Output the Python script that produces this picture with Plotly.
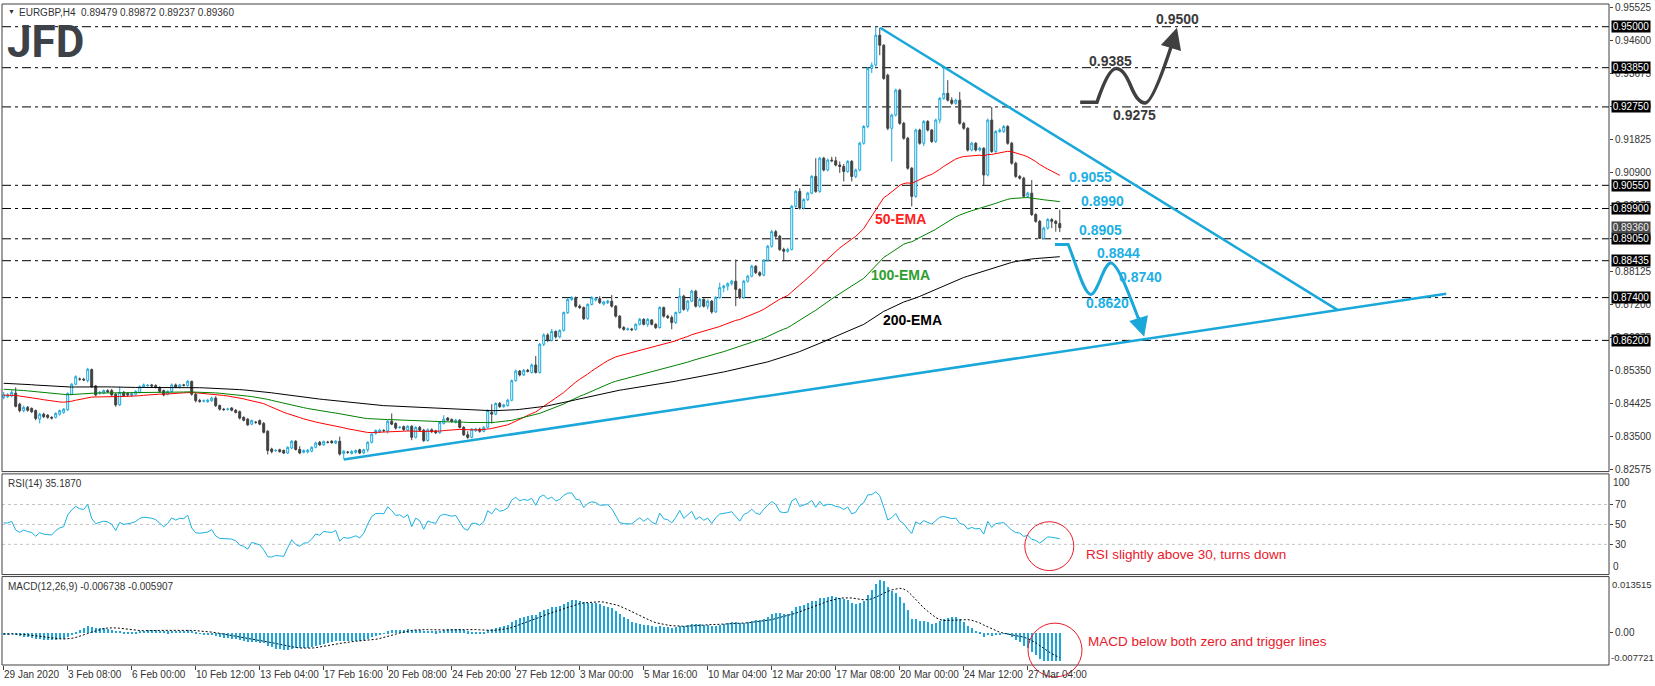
import plotly.graph_objects as go

# ---------------- data ----------------
opens = [
 0.8460,0.8462,0.8465,0.8472,0.8441,0.8423,0.8432,0.8429,0.8423,0.8399,
 0.8413,0.8410,0.8404,0.8404,0.8413,0.8418,0.8425,0.8469,0.8497,0.8511,
 0.8511,0.8507,0.8538,0.8492,0.8472,0.8472,0.8479,0.8479,0.8469,0.8439,
 0.8474,0.8471,0.8465,0.8469,0.8474,0.8490,0.8493,0.8495,0.8493,0.8488,
 0.8479,0.8469,0.8477,0.8495,0.8489,0.8495,0.8493,0.8505,0.8469,0.8451,
 0.8450,0.8448,0.8451,0.8458,0.8437,0.8427,0.8427,0.8430,0.8424,0.8420,
 0.8404,0.8399,0.8385,0.8390,0.8395,0.8387,0.8365,0.8315,0.8311,0.8313,
 0.8311,0.8304,0.8318,0.8337,0.8314,0.8306,0.8307,0.8309,0.8320,0.8334,
 0.8327,0.8334,0.8337,0.8332,0.8337,0.8303,0.8306,0.8303,0.8306,0.8313,
 0.8304,0.8313,0.8334,0.8359,0.8363,0.8367,0.8366,0.8393,0.8387,0.8376,
 0.8378,0.8368,0.8379,0.8348,0.8376,0.8368,0.8339,0.8369,0.8366,0.8361,
 0.8387,0.8402,0.8398,0.8390,0.8396,0.8376,0.8355,0.8348,0.8367,0.8371,
 0.8365,0.8376,0.8418,0.8413,0.8443,0.8434,0.8437,0.8452,0.8507,0.8534,
 0.8523,0.8536,0.8530,0.8551,0.8530,0.8609,0.8635,0.8620,0.8645,0.8630,
 0.8648,0.8698,0.8735,0.8740,0.8716,0.8712,0.8681,0.8721,0.8733,0.8737,
 0.8722,0.8726,0.8730,0.8716,0.8688,0.8656,0.8651,0.8652,0.8651,0.8665,
 0.8679,0.8665,0.8677,0.8665,0.8656,0.8712,0.8688,0.8684,0.8670,0.8698,
 0.8744,0.8707,0.8730,0.8758,0.8716,0.8735,0.8716,0.8730,0.8700,0.8740,
 0.8768,0.8772,0.8779,0.8786,0.8763,0.8740,0.8786,0.8800,0.8828,0.8810,
 0.8803,0.8845,0.8884,0.8925,0.8912,0.8875,0.8870,0.8875,0.8996,0.9038,
 0.8991,0.9015,0.9033,0.9080,0.9038,0.9131,0.9098,0.9126,0.9124,0.9112,
 0.9108,0.9094,0.9122,0.9080,0.9098,0.9173,0.9220,0.9383,0.9392,0.9476,
 0.9448,0.9364,0.9215,0.9252,0.9322,0.9229,0.9187,0.9103,0.9024,0.9210,
 0.9173,0.9234,0.9210,0.9178,0.9238,0.9299,0.9313,0.9294,0.9285,0.9294,
 0.9229,0.9215,0.9154,0.9173,0.9154,0.9159,0.9084,0.9238,0.9150,0.9206,
 0.9206,0.9220,0.9173,0.9117,0.9080,0.9075,0.9024,0.9033,0.8973,0.8954,
 0.8906,0.8935,0.8959,0.8954,0.89479]
highs = [
 0.8475,0.8472,0.8480,0.8488,0.8445,0.8437,0.8436,0.8432,0.8426,0.8417,
 0.8417,0.8413,0.8407,0.8418,0.8426,0.8430,0.8474,0.8500,0.8522,0.8516,
 0.8515,0.8543,0.8541,0.8495,0.8478,0.8482,0.8483,0.8484,0.8472,0.8490,
 0.8478,0.8474,0.8474,0.8480,0.8494,0.8499,0.8497,0.8498,0.8497,0.8491,
 0.8482,0.8480,0.8499,0.8499,0.8498,0.8498,0.8509,0.8507,0.8472,0.8456,
 0.8454,0.8456,0.8462,0.8463,0.8440,0.8430,0.8431,0.8433,0.8427,0.8423,
 0.8407,0.8402,0.8398,0.8394,0.8398,0.8391,0.8368,0.8319,0.8315,0.8316,
 0.8314,0.8323,0.8340,0.8340,0.8323,0.8314,0.8315,0.8323,0.8336,0.8338,
 0.8339,0.8338,0.8340,0.8340,0.8350,0.8312,0.8310,0.8312,0.8314,0.8316,
 0.8316,0.8337,0.8360,0.8370,0.8372,0.8371,0.8396,0.8415,0.8390,0.8380,
 0.8381,0.8382,0.8382,0.8379,0.8380,0.8372,0.8373,0.8373,0.8369,0.8393,
 0.8410,0.8405,0.8401,0.8400,0.8399,0.8379,0.8365,0.8374,0.8375,0.8375,
 0.8379,0.8427,0.8441,0.8446,0.8447,0.8442,0.8456,0.8510,0.8538,0.8537,
 0.8540,0.8540,0.8555,0.8576,0.8613,0.8640,0.8640,0.8652,0.8648,0.8651,
 0.8701,0.8740,0.8744,0.8743,0.8721,0.8715,0.8724,0.8744,0.8741,0.8744,
 0.8731,0.8734,0.8747,0.8719,0.8691,0.8660,0.8656,0.8655,0.8668,0.8683,
 0.8682,0.8683,0.8680,0.8668,0.8716,0.8715,0.8692,0.8690,0.8701,0.8767,
 0.8748,0.8734,0.8762,0.8762,0.8740,0.8738,0.8735,0.8733,0.8744,0.8782,
 0.8776,0.8783,0.8790,0.8847,0.8766,0.8790,0.8804,0.8832,0.8831,0.8814,
 0.8848,0.8888,0.8930,0.8930,0.8916,0.8880,0.8880,0.9000,0.9042,0.9047,
 0.9019,0.9037,0.9084,0.9131,0.9135,0.9135,0.9130,0.9135,0.9135,0.9122,
 0.9115,0.9126,0.9126,0.9102,0.9177,0.9224,0.9387,0.9400,0.9500,0.9497,
 0.9451,0.9368,0.9256,0.9326,0.9326,0.9233,0.9191,0.9106,0.9214,0.9214,
 0.9238,0.9238,0.9213,0.9242,0.9303,0.9385,0.9350,0.9302,0.9298,0.9317,
 0.9233,0.9218,0.9177,0.9176,0.9163,0.9162,0.9242,0.9275,0.9210,0.9215,
 0.9224,0.9224,0.9177,0.9121,0.9084,0.9079,0.9037,0.9070,0.8977,0.8958,
 0.8939,0.8963,0.8963,0.8958,0.89872]
lows = [
 0.8455,0.8458,0.8460,0.8432,0.8418,0.8418,0.8420,0.8416,0.8396,0.8387,
 0.8402,0.8400,0.8398,0.8401,0.8409,0.8414,0.8422,0.8466,0.8494,0.8507,
 0.8506,0.8502,0.8487,0.8463,0.8468,0.8469,0.8473,0.8464,0.8434,0.8436,
 0.8461,0.8462,0.8461,0.8466,0.8471,0.8487,0.8490,0.8489,0.8485,0.8473,
 0.8463,0.8466,0.8474,0.8486,0.8485,0.8491,0.8490,0.8465,0.8446,0.8445,
 0.8446,0.8445,0.8448,0.8433,0.8423,0.8422,0.8423,0.8421,0.8415,0.8398,
 0.8393,0.8380,0.8382,0.8386,0.8382,0.8359,0.8300,0.8303,0.8307,0.8305,
 0.8301,0.8301,0.8315,0.8311,0.8301,0.8303,0.8303,0.8306,0.8317,0.8324,
 0.8324,0.8331,0.8330,0.8329,0.8297,0.8288,0.8302,0.8300,0.8302,0.8301,
 0.8301,0.8306,0.8331,0.8356,0.8360,0.8363,0.8359,0.8382,0.8370,0.8372,
 0.8366,0.8365,0.8340,0.8345,0.8364,0.8335,0.8336,0.8360,0.8357,0.8358,
 0.8384,0.8393,0.8389,0.8387,0.8373,0.8352,0.8344,0.8345,0.8363,0.8361,
 0.8362,0.8373,0.8387,0.8410,0.8431,0.8431,0.8434,0.8449,0.8504,0.8519,
 0.8520,0.8530,0.8527,0.8527,0.8527,0.8604,0.8615,0.8617,0.8625,0.8626,
 0.8645,0.8694,0.8731,0.8712,0.8708,0.8677,0.8678,0.8718,0.8729,0.8722,
 0.8718,0.8722,0.8712,0.8684,0.8652,0.8647,0.8647,0.8646,0.8647,0.8662,
 0.8662,0.8658,0.8662,0.8652,0.8653,0.8684,0.8680,0.8651,0.8666,0.8695,
 0.8703,0.8700,0.8727,0.8712,0.8712,0.8712,0.8707,0.8695,0.8697,0.8737,
 0.8755,0.8760,0.8774,0.8716,0.8736,0.8736,0.8782,0.8797,0.8806,0.8799,
 0.8800,0.8841,0.8880,0.8905,0.8871,0.8842,0.8866,0.8872,0.8992,0.8987,
 0.8987,0.9011,0.9030,0.9034,0.9034,0.9094,0.9094,0.9120,0.9108,0.9090,
 0.9066,0.9090,0.9066,0.9075,0.9094,0.9169,0.9215,0.9370,0.9388,0.9420,
 0.9351,0.9210,0.9122,0.9248,0.9225,0.9183,0.9099,0.8996,0.9020,0.9169,
 0.9165,0.9206,0.9174,0.9174,0.9229,0.9295,0.9290,0.9281,0.9281,0.9225,
 0.9211,0.9150,0.9150,0.9150,0.9150,0.9056,0.9080,0.9146,0.9146,0.9202,
 0.9202,0.9169,0.9113,0.9076,0.9071,0.9020,0.9020,0.8969,0.8950,0.8905,
 0.8905,0.8931,0.8935,0.8925,0.89237]
closes = [
 0.8467,0.8467,0.8474,0.8435,0.8423,0.8432,0.8424,0.8420,0.8401,0.8413,
 0.8406,0.8404,0.8402,0.8415,0.8423,0.8427,0.8471,0.8497,0.8518,0.8511,
 0.8509,0.8539,0.8490,0.8467,0.8474,0.8479,0.8476,0.8467,0.8439,0.8474,
 0.8465,0.8467,0.8471,0.8477,0.8490,0.8495,0.8494,0.8492,0.8488,0.8477,
 0.8467,0.8477,0.8495,0.8489,0.8495,0.8494,0.8505,0.8469,0.8451,0.8449,
 0.8450,0.8452,0.8458,0.8437,0.8427,0.8426,0.8427,0.8424,0.8418,0.8402,
 0.8396,0.8383,0.8395,0.8390,0.8385,0.8362,0.8311,0.8308,0.8311,0.8308,
 0.8304,0.8320,0.8337,0.8314,0.8304,0.8311,0.8312,0.8320,0.8332,0.8327,
 0.8336,0.8334,0.8333,0.8337,0.8301,0.8309,0.8306,0.8308,0.8311,0.8304,
 0.8313,0.8334,0.8357,0.8367,0.8368,0.8367,0.8393,0.8385,0.8374,0.8376,
 0.8370,0.8379,0.8348,0.8376,0.8368,0.8339,0.8369,0.8364,0.8361,0.8390,
 0.8399,0.8396,0.8393,0.8396,0.8376,0.8355,0.8348,0.8371,0.8371,0.8365,
 0.8376,0.8423,0.8413,0.8443,0.8434,0.8439,0.8452,0.8507,0.8534,0.8523,
 0.8536,0.8533,0.8551,0.8530,0.8609,0.8635,0.8620,0.8645,0.8630,0.8648,
 0.8698,0.8735,0.8740,0.8716,0.8712,0.8681,0.8721,0.8740,0.8737,0.8726,
 0.8728,0.8730,0.8716,0.8688,0.8656,0.8651,0.8652,0.8650,0.8665,0.8679,
 0.8665,0.8679,0.8665,0.8656,0.8712,0.8688,0.8684,0.8670,0.8698,0.8744,
 0.8707,0.8730,0.8758,0.8716,0.8735,0.8716,0.8730,0.8700,0.8740,0.8768,
 0.8772,0.8779,0.8786,0.8763,0.8740,0.8786,0.8800,0.8828,0.8810,0.8803,
 0.8845,0.8884,0.8925,0.8912,0.8875,0.8870,0.8875,0.8996,0.9038,0.8991,
 0.9015,0.9033,0.9080,0.9038,0.9131,0.9098,0.9126,0.9124,0.9112,0.9108,
 0.9094,0.9122,0.9080,0.9098,0.9173,0.9220,0.9383,0.9392,0.9476,0.9448,
 0.9355,0.9215,0.9252,0.9322,0.9229,0.9187,0.9103,0.9024,0.9210,0.9173,
 0.9234,0.9210,0.9178,0.9238,0.9299,0.9313,0.9294,0.9285,0.9294,0.9229,
 0.9215,0.9154,0.9173,0.9154,0.9159,0.9084,0.9238,0.9150,0.9206,0.9210,
 0.9220,0.9173,0.9117,0.9080,0.9075,0.9024,0.9033,0.8973,0.8954,0.8906,
 0.8935,0.8959,0.8954,0.8948,0.89360]

tick_idx = [0, 16, 32, 48, 64, 80, 96, 112, 128, 144, 160, 176, 192, 208, 224, 240, 256]
tick_labels = ["29 Jan 2020", "3 Feb 08:00", "6 Feb 00:00", "10 Feb 12:00", "13 Feb 04:00",
               "17 Feb 16:00", "20 Feb 08:00", "24 Feb 20:00", "27 Feb 12:00", "3 Mar 00:00",
               "5 Mar 16:00", "10 Mar 04:00", "12 Mar 20:00", "17 Mar 08:00", "20 Mar 00:00",
               "24 Mar 12:00", "27 Mar 04:00"]
levels = [0.9500, 0.9385, 0.9275, 0.9055, 0.8990, 0.8905, 0.88435, 0.8740, 0.8620]
last_price = 0.89360
price_ticks = [0.95525, 0.94600, 0.93675, 0.92750, 0.91825, 0.90900, 0.89975, 0.89050,
               0.88125, 0.87200, 0.86275, 0.85350, 0.84425, 0.83500, 0.82575]
rsi_levels = [70, 50, 30]
ema_periods = [50, 100, 200]
ema_seeds = [0.84664, 0.84832, 0.85000]
ema_colors = ["#ff0000", "#008000", "#000000"]
# trend lines: (bar, price) end points
down_trend = [(219.1, 0.9497), (333.5, 0.8705)]
up_trend = [(85.0, 0.82855), (360.6, 0.8751)]

n = len(closes)
assert len(opens) == n and len(highs) == n and len(lows) == n
xs = list(range(n))

# ---------------- indicators ----------------
def ema(vals, period, seed):
    a = 2.0 / (period + 1)
    e = seed
    out = []
    for v in vals:
        e = e + a * (v - e)
        out.append(e)
    return out

def rsi(vals, first_prev, period=14, seed=0.0009):
    ag = al = seed
    prev = first_prev
    out = []
    for v in vals:
        ch = v - prev
        ag = (ag * (period - 1) + max(ch, 0)) / period
        al = (al * (period - 1) + max(-ch, 0)) / period
        out.append(100 - 100 / (1 + ag / al) if al > 0 else 100)
        prev = v
    return out

emas = [ema(closes, p, s) for p, s in zip(ema_periods, ema_seeds)]
rsi_vals = rsi(closes, opens[0])
e12 = ema(closes, 12, 0.8464)
e26 = ema(closes, 26, 0.8467)
macd = [a - b for a, b in zip(e12, e26)]
signal = [sum(macd[max(0, i - 8):i + 1]) / len(macd[max(0, i - 8):i + 1]) for i in range(n)]

# ---------------- geometry helpers ----------------
PL, PR, PT, PB = 2, 1609, 2, 665
def px_x(px):
    return (px - PL) / (PR - PL)
def px_y(py):
    return (PB - py) / (PB - PT)

dom_main = [px_y(471), 1.0]
dom_rsi = [px_y(574.3), px_y(473.3)]
dom_macd = [0.0, px_y(576.3)]

BLUE = "#1aa7da"
TXTBLUE = "#1cb0e4"
GREY = "#404040"
FONT = "Liberation Sans"

fig = go.Figure()
fig.add_trace(go.Candlestick(
    x=xs, open=opens, high=highs, low=lows, close=closes, xaxis="x", yaxis="y",
    increasing=dict(line=dict(color=BLUE, width=1), fillcolor="white"),
    decreasing=dict(line=dict(color=GREY, width=1), fillcolor=GREY),
    whiskerwidth=0, hoverinfo="skip"))
for e, c in zip(emas, ema_colors):
    fig.add_trace(go.Scatter(x=xs, y=e, mode="lines", line=dict(color=c, width=1),
                             xaxis="x", yaxis="y", hoverinfo="skip"))
fig.add_trace(go.Scatter(x=xs, y=rsi_vals, mode="lines", line=dict(color="#1ab0e0", width=1),
                         xaxis="x", yaxis="y2", hoverinfo="skip"))
fig.add_trace(go.Bar(x=xs, y=macd, width=0.3, marker=dict(color="#1ba5d8", line=dict(width=0)),
                     xaxis="x", yaxis="y3", hoverinfo="skip"))
fig.add_trace(go.Scatter(x=xs, y=signal, mode="lines", line=dict(color="black", width=1, dash="2px,2px"),
                         xaxis="x", yaxis="y3", hoverinfo="skip"))

shapes = []
# panel frames
for d in (dom_main, dom_rsi, dom_macd):
    shapes.append(dict(type="rect", xref="paper", yref="paper", x0=0, x1=1, y0=d[0], y1=d[1],
                       line=dict(color=GREY, width=1), layer="above"))
# horizontal levels
for lv in levels:
    shapes.append(dict(type="line", xref="paper", yref="y", x0=0, x1=1, y0=lv, y1=lv,
                       line=dict(color="black", width=1, dash="9px,4px,3px,4px"), layer="below"))
for lv in rsi_levels:
    shapes.append(dict(type="line", xref="paper", yref="y2", x0=0, x1=1, y0=lv, y1=lv,
                       line=dict(color="#c4c4c4", width=1, dash="3px,3px"), layer="below"))
# trend lines
for tl in (down_trend, up_trend):
    shapes.append(dict(type="line", xref="x", yref="y", x0=tl[0][0], y0=tl[0][1],
                       x1=tl[1][0], y1=tl[1][1], line=dict(color=BLUE, width=2.5), layer="above"))

def P(b, p):
    return f"{b},{p}"
gray_path = (f"M {P(269.1, 0.9288)} L {P(273.3, 0.9288)} "
             f"C {P(275.0, 0.9345)} {P(276.6, 0.9383)} {P(278.1, 0.9383)} "
             f"C {P(279.6, 0.9383)} {P(280.8, 0.9360)} {P(281.7, 0.9335)} "
             f"C {P(282.6, 0.9310)} {P(283.8, 0.9286)} {P(285.3, 0.9286)} "
             f"C {P(287.0, 0.9286)} {P(290.0, 0.9380)} {P(292.3, 0.9460)}")
blue_path = (f"M {P(262.8, 0.8889)} L {P(266.1, 0.8889)} "
             f"C {P(267.8, 0.8845)} {P(270.0, 0.8749)} {P(271.75, 0.8749)} "
             f"C {P(273.4, 0.8749)} {P(275.0, 0.8837)} {P(276.75, 0.8837)} "
             f"C {P(278.5, 0.8837)} {P(281.5, 0.8745)} {P(284.2, 0.8665)}")
shapes.append(dict(type="path", xref="x", yref="y", path=gray_path,
                   line=dict(color=GREY, width=3.5), layer="above"))
shapes.append(dict(type="path", xref="x", yref="y", path=blue_path,
                   line=dict(color=BLUE, width=3), layer="above"))
# red circles
def circle(cx, cy, r):
    return dict(type="circle", xref="paper", yref="paper",
                x0=px_x(cx - r), x1=px_x(cx + r), y0=px_y(cy + r), y1=px_y(cy - r),
                line=dict(color="#e81c2c", width=1), layer="above")
shapes.append(circle(1049.3, 545.8, 24.5))
shapes.append(circle(1055, 650, 27))

ann = []
# right-hand level boxes
for lv in levels:
    ann.append(dict(x=1, xref="paper", xanchor="left", xshift=2, y=lv, yref="y", yanchor="middle",
                    text=f"{lv:.5f}", showarrow=False, bgcolor="black", width=38, height=11,
                    borderpad=0, font=dict(family=FONT, size=10, color="white")))
ann.append(dict(x=1, xref="paper", xanchor="left", xshift=2, y=last_price, yref="y", yanchor="middle",
                text=f"{last_price:.5f}", showarrow=False, bgcolor="#4a4a4a", width=38, height=11,
                borderpad=0, font=dict(family=FONT, size=10, color="#f0f0f0")))
# rsi / macd extreme labels
ann.append(dict(x=1, xref="paper", xanchor="left", xshift=2, y=100, yref="y2", yanchor="top",
                text="100", showarrow=False, font=dict(family=FONT, size=10, color="#333")))
ann.append(dict(x=1, xref="paper", xanchor="left", xshift=2, y=0, yref="y2", yanchor="bottom",
                text="0", showarrow=False, font=dict(family=FONT, size=10, color="#333")))
ann.append(dict(x=1, xref="paper", xanchor="left", xshift=1, y=0.013515, yref="y3", yanchor="top",
                text="0.013515", showarrow=False, font=dict(family=FONT, size=9.5, color="#333")))
ann.append(dict(x=1, xref="paper", xanchor="left", xshift=0, y=-0.007721, yref="y3", yanchor="bottom",
                text="-0.007721", showarrow=False, font=dict(family=FONT, size=9.5, color="#333")))
# x tick labels
for ti, tl in zip(tick_idx, tick_labels):
    ann.append(dict(x=ti, xref="x", xanchor="left", xshift=-2, y=0, yref="paper", yanchor="top",
                    yshift=-2, text=tl, showarrow=False, font=dict(family=FONT, size=10, color="#333")))
# header texts
def ptext(px, py, text, size=10, color="#333", xanchor="left", family=FONT):
    return dict(x=px_x(px), y=px_y(py), xref="paper", yref="paper", xanchor=xanchor,
                yanchor="middle", text=text, showarrow=False,
                font=dict(family=family, size=size, color=color))
ann.append(ptext(6, 10, "▼", size=7))
ann.append(ptext(17, 10.5, "EURGBP,H4\u00a0\u00a00.89479 0.89872 0.89237 0.89360"))
ann.append(ptext(6, 483, "RSI(14) 35.1870"))
ann.append(ptext(6, 586, "MACD(12,26,9) -0.006738 -0.005907"))
ann.append(ptext(5, 40, "<b>JFD</b>", size=44, color="#3d4148", family="Roboto"))
ann.append(ptext(1084, 554.3, "RSI slightly above 30, turns down", size=13.5, color="#e8192c"))
ann.append(ptext(1086, 641.7, "MACD below both zero and trigger lines", size=13.5, color="#e8192c"))

def dtext(b, p, text, color):
    return dict(x=b, y=p, xref="x", yref="y", xanchor="center", yanchor="middle",
                text=f"<b>{text}</b>", showarrow=False,
                font=dict(family=FONT, size=14, color=color))
ann += [dtext(224.1, 0.89609, "50-EMA", "#ff2020"),
        dtext(224.2, 0.88029, "100-EMA", "#2e9e2e"),
        dtext(227.1, 0.86770, "200-EMA", "#000000"),
        dtext(276.8, 0.94029, "0.9385", "#3a3a3a"),
        dtext(282.8, 0.92532, "0.9275", "#3a3a3a"),
        dtext(293.45, 0.95226, "0.9500", "#3a3a3a"),
        dtext(271.6, 0.90778, "0.9055", TXTBLUE),
        dtext(274.6, 0.90099, "0.8990", TXTBLUE),
        dtext(274.1, 0.89288, "0.8905", TXTBLUE),
        dtext(278.6, 0.88653, "0.8844", TXTBLUE),
        dtext(284.1, 0.87973, "0.8740", TXTBLUE),
        dtext(276.0, 0.87246, "0.8620", TXTBLUE)]
# arrow heads
ann.append(dict(x=293.3, y=0.9497, ax=292.0, ay=0.9448, xref="x", yref="y", axref="x", ayref="y",
                text="", showarrow=True, arrowhead=2, arrowsize=1.2, arrowwidth=3.5, arrowcolor=GREY))
ann.append(dict(x=285.1, y=0.8630, ax=283.5, ay=0.8690, xref="x", yref="y", axref="x", ayref="y",
                text="", showarrow=True, arrowhead=2, arrowsize=1.3, arrowwidth=3, arrowcolor=BLUE))

axis_common = dict(showgrid=False, zeroline=False, ticks="outside", tickcolor=GREY,
                   tickfont=dict(family=FONT, size=10, color="#333"), showline=False)
fig.update_layout(
    width=1655, height=686, margin=dict(l=PL, r=1655 - PR, t=PT, b=686 - PB),
    paper_bgcolor="white", plot_bgcolor="white", showlegend=False, bargap=0,
    font=dict(family=FONT, size=10, color="#333"),
    xaxis=dict(domain=[0, 1], range=[-0.425, 401.3], anchor="y3", tickvals=tick_idx,
               showticklabels=False, ticklen=4, rangeslider=dict(visible=False), **axis_common),
    yaxis=dict(domain=dom_main, range=[0.82519, 0.95637], side="right", anchor="x",
               tickvals=price_ticks, ticktext=[f"{v:.5f}" for v in price_ticks], ticklen=3,
               **axis_common),
    yaxis2=dict(domain=dom_rsi, range=[-0.3, 100.7], side="right", anchor="x",
                tickvals=rsi_levels, ticktext=[str(v) for v in rsi_levels], ticklen=3, **axis_common),
    yaxis3=dict(domain=dom_macd, range=[-0.007721, 0.013515], side="right", anchor="x",
                tickvals=[0], ticktext=["0.00"], ticklen=3, **axis_common),
    shapes=shapes, annotations=ann)

fig.write_html("out.html")
